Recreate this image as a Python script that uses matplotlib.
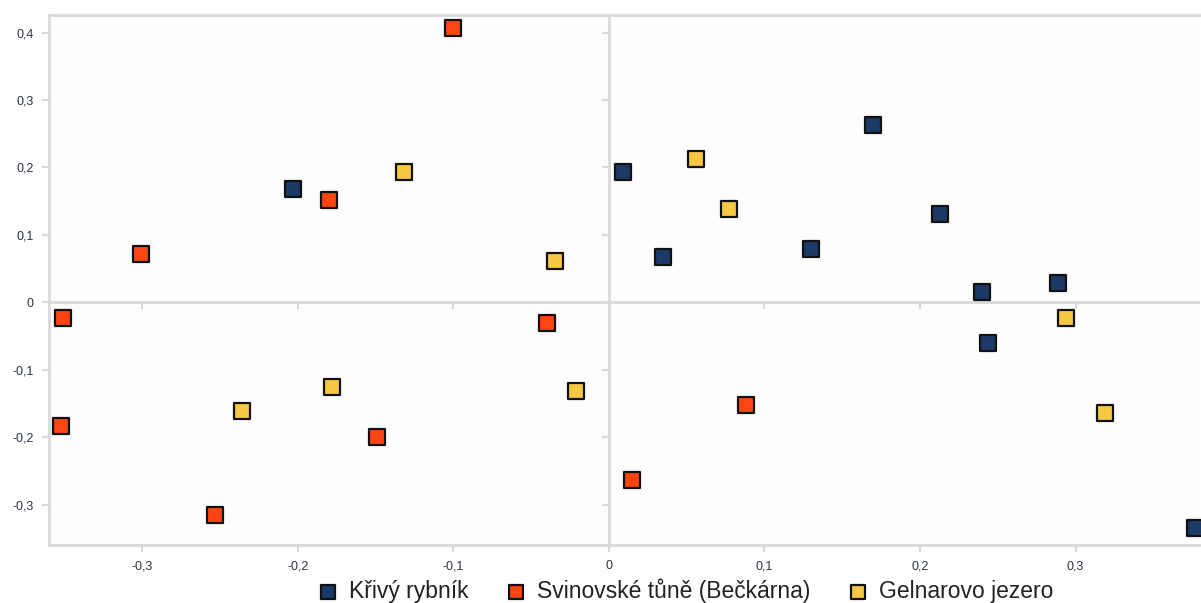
import matplotlib
matplotlib.use("Agg")
import matplotlib.pyplot as plt
from matplotlib.ticker import FuncFormatter

plt.rcParams['font.family'] = ['Liberation Sans', 'DejaVu Sans']

series_names = ["Křivý rybník", "Svinovské tůně (Bečkárna)", "Gelnarovo jezero"]
series_colors = ["#1c3a66", "#ff4512", "#f7c842"]

kr_x = [-0.203, 0.009, 0.035, 0.130, 0.170, 0.213, 0.240, 0.289, 0.244, 0.377]
kr_y = [0.168, 0.193, 0.067, 0.079, 0.263, 0.131, 0.015, 0.029, -0.061, -0.335]

sv_x = [-0.100, -0.180, -0.301, -0.351, -0.352, -0.253, -0.149, -0.040, 0.088, 0.015]
sv_y = [0.407, 0.151, 0.071, -0.024, -0.184, -0.316, -0.200, -0.031, -0.153, -0.264]

ge_x = [-0.132, -0.035, 0.056, 0.077, -0.236, -0.178, -0.021, 0.294, 0.319]
ge_y = [0.193, 0.061, 0.213, 0.138, -0.162, -0.126, -0.132, -0.023, -0.164]

xticks = [-0.3, -0.2, -0.1, 0.0, 0.1, 0.2, 0.3]
yticks = [-0.3, -0.2, -0.1, 0.0, 0.1, 0.2, 0.3, 0.4]
xlim = (-0.360, 0.380)
ylim = (-0.360, 0.426)

grid_col = "#d9d9d9"
label_col = "#2c3242"

fig = plt.figure(figsize=(12.01, 6.03), dpi=100)
fig.patch.set_facecolor("white")
ax = fig.add_axes([49/1201, 58/603, 1151/1201, 530/603])
ax.set_facecolor("#fdfdfb")

ax.set_xlim(*xlim)
ax.set_ylim(*ylim)

for s in ["left", "bottom", "top", "right"]:
    ax.spines[s].set_color(grid_col)
    ax.spines[s].set_linewidth(2.0)
ax.spines["right"].set_visible(False)

ax.axhline(0, color=grid_col, lw=2.0, zorder=1)
ax.axvline(0, color=grid_col, lw=2.0, zorder=1)

# small ticks on the zero lines
ax.plot(xticks, [0]*len(xticks), linestyle="none", marker=3, markersize=5,
        markeredgewidth=1.5, color=grid_col, zorder=1)
ax.plot([0]*len(yticks), yticks, linestyle="none", marker=0, markersize=5,
        markeredgewidth=1.5, color=grid_col, zorder=1)

def fmt(v, pos):
    if abs(v) < 1e-9:
        return "0"
    return ("%.1f" % v).replace(".", ",")

ax.set_xticks(xticks)
ax.set_yticks(yticks)
ax.xaxis.set_major_formatter(FuncFormatter(fmt))
ax.yaxis.set_major_formatter(FuncFormatter(fmt))
ax.tick_params(axis="both", direction="out", length=5, width=1.5, color=grid_col,
               labelsize=9, labelcolor=label_col, pad=6)

marker_kw = dict(marker="s", s=140, edgecolors="#111111", linewidths=1.6, zorder=3)
for xs, ys, c, n in [(kr_x, kr_y, series_colors[0], series_names[0]),
                     (sv_x, sv_y, series_colors[1], series_names[1]),
                     (ge_x, ge_y, series_colors[2], series_names[2])]:
    ax.scatter(xs, ys, color=c, label=n, **marker_kw)

handles, labels = ax.get_legend_handles_labels()
leg = fig.legend(handles, labels, loc="center", bbox_to_anchor=(686/1201, 12/603),
                 ncol=3, frameon=False, fontsize=16.5, handlelength=0.8,
                 handletextpad=0.5, columnspacing=1.7, markerscale=0.8)
for t in leg.get_texts():
    t.set_color("#222222")

fig.savefig("out.png", dpi=100)
